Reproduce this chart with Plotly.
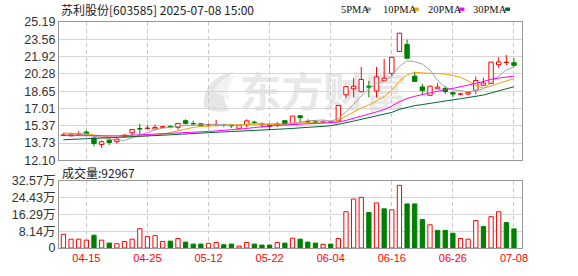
import base64
import plotly.graph_objects as go

# ---------------- data ----------------
dates = ["04-10", "04-11", "04-14", "04-15", "04-16", "04-17", "04-18", "04-21", "04-22", "04-23",
         "04-24", "04-25", "04-28", "04-29", "04-30", "05-06", "05-07", "05-08", "05-09", "05-12",
         "05-13", "05-14", "05-15", "05-16", "05-19", "05-20", "05-21", "05-22", "05-23", "05-26",
         "05-27", "05-28", "05-29", "05-30", "06-03", "06-04", "06-05", "06-06", "06-09", "06-10",
         "06-11", "06-12", "06-13", "06-16", "06-17", "06-18", "06-19", "06-20", "06-23", "06-24",
         "06-25", "06-26", "06-27", "06-30", "07-01", "07-02", "07-03", "07-04", "07-07", "07-08"]

opens = [14.45, 14.42, 14.55, 14.78, 14.22, 13.61, 14.01, 13.86, 14.32, 14.71,
         15.12, 15.12, 15.07, 15.23, 15.32, 15.23, 15.86, 15.58, 15.56, 15.44,
         15.46, 15.50, 15.45, 15.14, 15.47, 15.72, 15.55, 15.41, 15.41, 15.86,
         15.52, 16.32, 15.78, 15.75, 15.70, 15.76, 15.84, 18.30, 18.87, 18.60,
         19.12, 18.66, 19.63, 20.33, 22.40, 23.07, 20.07, 19.05, 18.26, 18.87,
         18.90, 18.51, 18.36, 18.38, 18.73, 19.21, 19.36, 21.15, 21.36, 21.34]
highs = [14.70, 14.72, 14.86, 14.95, 14.25, 14.00, 14.16, 14.16, 14.58, 15.04,
         15.56, 15.43, 15.50, 15.32, 15.41, 15.62, 15.98, 15.84, 15.62, 15.56,
         15.93, 15.56, 15.53, 15.41, 15.98, 15.86, 15.68, 15.59, 15.72, 15.86,
         16.29, 16.38, 15.98, 15.92, 15.90, 15.85, 17.30, 19.08, 19.88, 20.94,
         19.63, 20.94, 21.70, 21.90, 24.16, 23.52, 20.49, 19.33, 19.12, 19.42,
         19.12, 18.60, 18.48, 18.60, 20.03, 19.94, 21.40, 21.86, 22.06, 21.76]
lows = [14.42, 14.40, 14.45, 14.55, 13.43, 13.28, 13.56, 13.70, 14.32, 14.47,
        14.47, 15.04, 15.07, 15.23, 15.14, 15.00, 15.50, 15.41, 15.32, 15.30,
        15.32, 15.25, 15.18, 15.10, 15.23, 15.47, 15.20, 15.04, 15.23, 15.52,
        15.50, 15.68, 15.62, 15.62, 15.66, 15.66, 15.77, 17.99, 18.05, 18.54,
        18.05, 18.05, 19.63, 20.03, 22.40, 21.76, 19.57, 18.30, 18.21, 18.87,
        18.38, 18.08, 18.25, 18.30, 18.35, 19.12, 19.36, 20.85, 21.09, 20.94]
closes = [14.52, 14.56, 14.58, 14.60, 13.70, 13.86, 13.80, 14.11, 14.48, 15.02,
          15.06, 15.16, 15.22, 15.30, 15.25, 15.60, 15.58, 15.55, 15.38, 15.48,
          15.50, 15.46, 15.36, 15.40, 15.84, 15.68, 15.48, 15.32, 15.56, 15.52,
          16.29, 16.14, 15.74, 15.70, 15.74, 15.72, 17.30, 19.08, 19.12, 19.76,
          19.03, 19.99, 19.88, 21.85, 24.13, 21.76, 19.57, 18.72, 19.12, 19.03,
          18.62, 18.38, 18.40, 18.51, 19.66, 19.42, 21.40, 21.42, 21.39, 21.09]

volumes = [66700, 42900, 42900, 38100, 62000, 38100, 23800, 20700, 31800, 42900,
           93700, 55600, 60400, 31800, 33400, 46100, 28600, 19100, 19100, 22200,
           27000, 15900, 19100, 9500, 27000, 19100, 14300, 14300, 27000, 23800,
           47700, 42900, 28600, 23800, 17500, 19100, 46100, 176400, 238300, 246300,
           173200, 219300, 190700, 185900, 305000, 214500, 214500, 138200, 112800, 85800,
           85800, 71500, 46100, 42900, 133500, 104900, 152500, 176400, 123900, 92967]
vol_up = [1, 1, 1, 1, 0, 1, 0, 1, 1, 1,
          1, 1, 1, 1, 0, 1, 0, 0, 0, 1,
          1, 0, 0, 1, 1, 0, 0, 0, 1, 0,
          1, 0, 0, 0, 1, 0, 1, 1, 1, 1,
          0, 1, 0, 1, 1, 0, 0, 0, 1, 0,
          0, 0, 1, 1, 1, 0, 1, 1, 0, 0]

ma5 = [14.62, 14.58, 14.56, 14.57, 14.39, 14.26, 14.11, 14.01, 13.99, 14.25,
       14.49, 14.77, 14.99, 15.15, 15.20, 15.31, 15.39, 15.46, 15.47, 15.52,
       15.50, 15.47, 15.44, 15.44, 15.51, 15.55, 15.55, 15.54, 15.58, 15.51,
       15.63, 15.77, 15.85, 15.88, 15.92, 15.81, 16.04, 16.71, 17.39, 18.20,
       18.86, 19.40, 19.56, 20.10, 20.98, 21.52, 21.44, 21.21, 20.66, 19.64,
       19.01, 18.77, 18.71, 18.59, 18.71, 18.87, 19.48, 20.08, 20.66, 20.94]
ma10 = [14.68, 14.66, 14.64, 14.62, 14.50, 14.40, 14.32, 14.28, 14.27, 14.32,
        14.38, 14.44, 14.50, 14.57, 14.73, 14.90, 15.08, 15.22, 15.31, 15.36,
        15.40, 15.43, 15.45, 15.46, 15.52, 15.52, 15.51, 15.49, 15.51, 15.51,
        15.59, 15.66, 15.70, 15.73, 15.72, 15.72, 15.90, 16.28, 16.64, 17.06,
        17.33, 17.72, 18.13, 18.75, 19.59, 20.19, 20.42, 20.38, 20.38, 20.31,
        20.27, 20.11, 19.96, 19.62, 19.18, 18.94, 19.13, 19.40, 19.62, 19.83]
ma20 = [14.45, 14.44, 14.43, 14.42, 14.40, 14.39, 14.40, 14.42, 14.45, 14.48,
        14.51, 14.54, 14.57, 14.60, 14.63, 14.67, 14.71, 14.75, 14.80, 14.84,
        14.89, 14.93, 14.97, 15.01, 15.12, 15.21, 15.30, 15.36, 15.41, 15.44,
        15.50, 15.55, 15.57, 15.59, 15.62, 15.62, 15.71, 15.88, 16.07, 16.29,
        16.46, 16.69, 16.91, 17.24, 17.65, 17.96, 18.16, 18.33, 18.51, 18.68,
        18.80, 18.91, 19.05, 19.19, 19.38, 19.57, 19.77, 19.89, 20.00, 20.07]
ma30 = [14.05, 14.08, 14.10, 14.12, 14.15, 14.18, 14.21, 14.24, 14.28, 14.32,
        14.36, 14.40, 14.44, 14.48, 14.52, 14.57, 14.62, 14.67, 14.71, 14.74,
        14.77, 14.80, 14.83, 14.86, 14.89, 14.93, 14.97, 15.00, 15.03, 15.06,
        15.12, 15.18, 15.21, 15.25, 15.32, 15.38, 15.50, 15.66, 15.82, 15.98,
        16.11, 16.27, 16.43, 16.64, 16.94, 17.14, 17.28, 17.38, 17.51, 17.63,
        17.73, 17.83, 17.93, 18.03, 18.16, 18.28, 18.48, 18.69, 18.88, 19.07]

price_ticks = [12.10, 13.73625, 15.3725, 17.00875, 18.645, 20.28125, 21.9175, 23.55375, 25.19]
price_tick_text = ["12.10", "13.73", "15.37", "17.01", "18.65", "20.28", "21.92", "23.56", "25.19"]
vol_ticks = [0, 81425, 162850, 244275, 325700]
vol_tick_text = ["0", "8.14万", "16.29万", "24.43万", "32.57万"]
date_labels = ["04-15", "04-25", "05-12", "05-22", "06-04", "06-16", "06-26", "07-08"]

title_text = "苏利股份[603585] 2025-07-08 15:00"
vol_title = "成交量:92967"
ma_names = ["5PMA", "10PMA", "20PMA", "30PMA"]

# ---------------- styles / layout geometry ----------------
W, H = 578, 276
ML, MR, MT, MB = 56, 56, 22, 20
PW, PH = W - ML - MR, H - MT - MB
RED = "#ff0000"
GREEN = "#008000"
MA_COLORS = ["#a0a0a0", "#f0a000", "#ff00ff", "#006633"]
FONT = "Liberation Sans, Arial, Noto Sans CJK SC, sans-serif"
CJK = "Noto Sans CJK SC, sans-serif"


def px_x(px):
    return (px - ML) / PW


def px_y(py):
    return (H - MB - py) / PH


n = len(dates)
xs = list(range(n))
X_RANGE = [-0.58, n + 0.05]
date_pos = [dates.index(d) for d in date_labels]

fig = go.Figure()

# wicks
wx_up, wy_up, wx_dn, wy_dn = [], [], [], []
for i in xs:
    o, h, l, c = opens[i], highs[i], lows[i], closes[i]
    if c >= o:
        top, bot = max(o, c), min(o, c)
        if h > top:
            wx_up += [i, i, None]
            wy_up += [h, top, None]
        if l < bot:
            wx_up += [i, i, None]
            wy_up += [bot, l, None]
    else:
        wx_dn += [i, i, None]
        wy_dn += [h, l, None]

fig.add_trace(go.Scatter(x=wx_up, y=wy_up, mode="lines", line=dict(color=RED, width=1),
                         hoverinfo="skip", showlegend=False))
fig.add_trace(go.Scatter(x=wx_dn, y=wy_dn, mode="lines", line=dict(color=GREEN, width=1),
                         hoverinfo="skip", showlegend=False))

# bodies
up_idx = [i for i in xs if closes[i] >= opens[i]]
dn_idx = [i for i in xs if closes[i] < opens[i]]
fig.add_trace(go.Bar(x=up_idx, base=[opens[i] for i in up_idx],
                     y=[max(closes[i] - opens[i], 0.02) for i in up_idx],
                     width=0.58, marker=dict(color="white", line=dict(color=RED, width=1)),
                     showlegend=False))
fig.add_trace(go.Bar(x=dn_idx, base=[closes[i] for i in dn_idx],
                     y=[max(opens[i] - closes[i], 0.02) for i in dn_idx],
                     width=0.58, marker=dict(color=GREEN, line=dict(color=GREEN, width=1)),
                     showlegend=False))

# moving averages
for vals, col in zip([ma5, ma10, ma20, ma30], MA_COLORS):
    fig.add_trace(go.Scatter(x=xs, y=vals, mode="lines", line=dict(color=col, width=1),
                             showlegend=False))

# volume
vu = [i for i in xs if vol_up[i]]
vd = [i for i in xs if not vol_up[i]]
fig.add_trace(go.Bar(x=vu, y=[volumes[i] for i in vu], width=0.56, xaxis="x2", yaxis="y2",
                     marker=dict(color="white", line=dict(color=RED, width=1)), showlegend=False))
fig.add_trace(go.Bar(x=vd, y=[volumes[i] for i in vd], width=0.56, xaxis="x2", yaxis="y2",
                     marker=dict(color=GREEN, line=dict(color=GREEN, width=1)), showlegend=False))

# annotations
ann = [
    dict(text=title_text, x=px_x(56), y=px_y(9), xref="paper", yref="paper",
         xanchor="left", yanchor="middle", showarrow=False,
         font=dict(family=CJK, size=12, color="#222")),
    dict(text=vol_title, x=px_x(57), y=px_y(178), xref="paper", yref="paper",
         xanchor="left", yanchor="middle", showarrow=False,
         font=dict(family=CJK, size=12, color="#222")),
]
shapes = []
leg_text_x = [338, 380, 425, 471]
leg_sq_x = [365, 413, 459, 505]
for name, col, tx, sx in zip(ma_names, MA_COLORS, leg_text_x, leg_sq_x):
    ann.append(dict(text=name, x=px_x(tx), y=px_y(9), xref="paper", yref="paper",
                    xanchor="left", yanchor="middle", showarrow=False,
                    font=dict(family="Liberation Serif, serif", size=10.5, color="#111")))
    shapes.append(dict(type="rect", xref="paper", yref="paper",
                       x0=px_x(sx), x1=px_x(sx + 5), y0=px_y(10.5), y1=px_y(7),
                       fillcolor=col, line=dict(width=0)))

# watermark (behind plot)
svg = ('<svg xmlns="http://www.w3.org/2000/svg" width="230" height="48" viewBox="0 0 230 48">'
       '<path d="M4 40 C 2 22, 14 6, 34 4 C 22 14, 20 28, 30 44 C 20 46, 10 45, 4 40 Z" fill="#e6e6e6"/>'
       '<path d="M14 24 C 18 14, 26 8, 36 8 C 28 16, 26 24, 30 34 Z" fill="#f2f2f2"/>'
       '<text x="40" y="40" font-family="Noto Sans CJK SC" font-weight="bold" font-size="42" '
       'fill="#e8e8e8">东方财富</text></svg>')
src = "data:image/svg+xml;base64," + base64.b64encode(svg.encode("utf-8")).decode("ascii")
images = [dict(source=src, xref="paper", yref="paper", x=px_x(198), y=px_y(70),
               sizex=230 / PW, sizey=48 / PH, xanchor="left", yanchor="top",
               sizing="stretch", layer="below")]

axis_common = dict(showline=True, linecolor="#999", linewidth=1, mirror=True,
                   zeroline=False, ticks="", fixedrange=True)

fig.update_layout(
    width=W, height=H,
    margin=dict(l=ML, r=MR, t=MT, b=MB, pad=0),
    paper_bgcolor="white", plot_bgcolor="rgba(0,0,0,0)",
    barmode="overlay", showlegend=False,
    annotations=ann, shapes=shapes, images=images,
    xaxis=dict(domain=[0, 1], anchor="y", range=X_RANGE, tickvals=date_pos,
               showticklabels=False, showgrid=True, gridcolor="#c8c8c8",
               griddash="4px,3px", gridwidth=1, **axis_common),
    yaxis=dict(domain=[px_y(165.3), 1], anchor="x", range=[price_ticks[0], price_ticks[-1]],
               tickvals=price_ticks, ticktext=price_tick_text, showgrid=True,
               gridcolor="#d6d6d6", gridwidth=1,
               tickfont=dict(family=FONT, size=12.5, color="#333"), **axis_common),
    xaxis2=dict(domain=[0, 1], anchor="y2", range=X_RANGE, tickvals=date_pos,
                ticktext=date_labels, showgrid=True, gridcolor="#c8c8c8",
                griddash="4px,3px", gridwidth=1,
                tickfont=dict(family=FONT, size=11, color=RED), **axis_common),
    yaxis2=dict(domain=[0, px_y(186.7)], anchor="x2", range=[0, vol_ticks[-1]],
                tickvals=vol_ticks, ticktext=vol_tick_text, showgrid=True,
                gridcolor="#d6d6d6", gridwidth=1,
                tickfont=dict(family=FONT, size=12.5, color="#333"), **axis_common),
)

fig.write_html("out.html")
